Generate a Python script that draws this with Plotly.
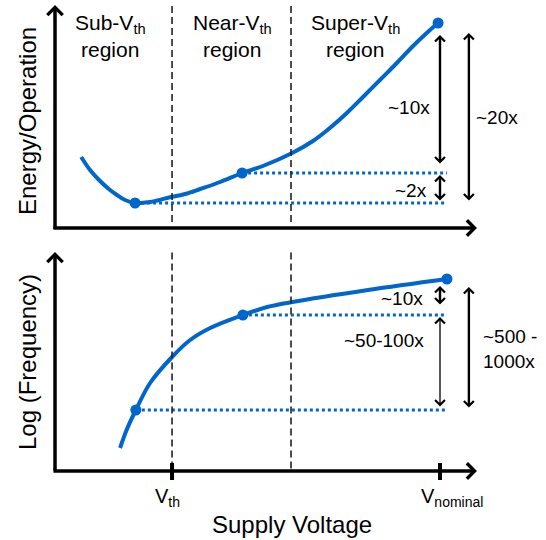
import plotly.graph_objects as go

W, H = 546, 540
FONT = "Liberation Sans, Arial, sans-serif"
BLUE = "#0066CC"

# ---------------- data (arbitrary conceptual units) ----------------
# supply voltage normalised: V_nominal = 1.0
v_th = 0.304
v_super = 0.613
v_nominal = 1.0

# Energy / operation curve
energy_v = [0.068, 0.091, 0.117, 0.143, 0.161, 0.182, 0.208, 0.247, 0.291, 0.338,
            0.377, 0.429, 0.486, 0.540, 0.616, 0.670, 0.714, 0.758, 0.800, 0.844,
            0.888, 0.930, 0.974, 0.995]
energy_e = [2.84, 2.32, 1.88, 1.52, 1.32, 1.12, 1.00, 1.04, 1.20, 1.36,
            1.56, 1.84, 2.20, 2.48, 3.00, 3.48, 4.00, 4.60, 5.24, 5.92,
            6.60, 7.28, 7.92, 8.20]
energy_pts_v = [0.208, 0.486, 0.995]
energy_pts_e = [1.00, 2.20, 8.20]

# Log(frequency) curve
freq_v = [0.169, 0.186, 0.210, 0.247, 0.304, 0.351, 0.403, 0.488, 0.551, 0.616, 0.813, 1.018]
freq_f = [0.92, 1.64, 2.44, 3.52, 4.56, 5.24, 5.72, 6.24, 6.56, 6.76, 7.24, 7.68]
freq_pts_v = [0.210, 0.488, 1.018]
freq_pts_f = [2.44, 6.24, 7.68]

guide_end_v = 1.018

region_labels = ["Sub-V<sub>th</sub>", "Near-V<sub>th</sub>", "Super-V<sub>th</sub>"]
energy_ratio_labels = ["~10x", "~2x", "~20x"]
freq_ratio_labels = ["~10x", "~50-100x", "~500 -<br>1000x"]
tick_labels = ["V<sub>th</sub>", "V<sub>nominal</sub>"]

# ---------------- layout geometry ----------------
X_RANGE = [-55 / 385, 491 / 385]
Y1_RANGE = [-0.48, 9.12]
Y2_RANGE = [-2.76, 9.24]
SPLIT = 1 - 240 / H


def px(xp):
    return xp / W


def py(yp):
    return 1 - yp / H


fig = go.Figure()

# main curves
fig.add_trace(go.Scatter(x=energy_v, y=energy_e, mode="lines", line=dict(color=BLUE, width=4, shape="spline"),
                         xaxis="x", yaxis="y", hoverinfo="skip"))
fig.add_trace(go.Scatter(x=freq_v, y=freq_f, mode="lines", line=dict(color=BLUE, width=4, shape="spline"),
                         xaxis="x", yaxis="y2", hoverinfo="skip"))

# dotted guide lines
for v, e in zip(energy_pts_v[:2], energy_pts_e[:2]):
    fig.add_trace(go.Scatter(x=[v, guide_end_v], y=[e, e], mode="lines",
                             line=dict(color=BLUE, width=3, dash="dot"), xaxis="x", yaxis="y", hoverinfo="skip"))
for v, f in zip(freq_pts_v[:2], freq_pts_f[:2]):
    fig.add_trace(go.Scatter(x=[v, guide_end_v], y=[f, f], mode="lines",
                             line=dict(color=BLUE, width=3, dash="dot"), xaxis="x", yaxis="y2", hoverinfo="skip"))

# markers
fig.add_trace(go.Scatter(x=energy_pts_v, y=energy_pts_e, mode="markers",
                         marker=dict(color=BLUE, size=11), xaxis="x", yaxis="y", hoverinfo="skip"))
fig.add_trace(go.Scatter(x=freq_pts_v, y=freq_pts_f, mode="markers",
                         marker=dict(color=BLUE, size=11), xaxis="x", yaxis="y2", hoverinfo="skip"))

shapes = []
# region boundaries (dashed)
for v in [v_th, v_super]:
    shapes.append(dict(type="line", xref="x", yref="y", x0=v, x1=v, y0=0.24, y1=9.0,
                       line=dict(color="#222222", width=1.6, dash="7px,4px")))
    shapes.append(dict(type="line", xref="x", yref="y2", x0=v, x1=v, y0=0.1, y1=8.84,
                       line=dict(color="#222222", width=1.6, dash="7px,4px")))
# tick marks on bottom axis
for v in [v_th, v_nominal]:
    shapes.append(dict(type="line", xref="x", yref="y2", x0=v, x1=v, y0=-0.36, y1=0.32,
                       line=dict(color="black", width=4)))

annotations = []


def arrow(x0, y0, x1, y1, yref, width, size, head=4, both=False):
    annotations.append(dict(x=x1, y=y1, ax=x0, ay=y0, xref="x", yref=yref, axref="x", ayref=yref,
                            text="", showarrow=True, arrowhead=head, startarrowhead=head,
                            arrowside="end+start" if both else "end",
                            arrowwidth=width, arrowsize=size, startarrowsize=size,
                            arrowcolor="black", standoff=0, startstandoff=0))


# axes with arrow heads
arrow(0, -0.1, 0, 8.92, "y", 3.5, 0.85)
arrow(-0.008, 0.0, 1.096, 0.0, "y", 3.5, 0.85)
arrow(0, -0.04, 0, 8.76, "y2", 3.5, 0.85)
arrow(-0.008, 0.0, 1.096, 0.0, "y2", 3.5, 0.85)

# ratio arrows, top panel
arrow(1.0, 2.52, 1.0, 7.72, "y", 2.4, 0.8, both=True)
arrow(1.0, 1.04, 1.0, 2.12, "y", 2.4, 0.8, both=True)
arrow(1.075, 1.04, 1.075, 7.8, "y", 2.4, 0.8, both=True)
# ratio arrows, bottom panel
arrow(1.0, 6.6, 1.0, 7.4, "y2", 2.4, 0.8, both=True)
arrow(1.0, 2.52, 1.0, 6.16, "y2", 1.3, 1.45, both=True)
arrow(1.075, 2.48, 1.075, 7.36, "y2", 2.4, 0.8, both=True)


def label(text, xp, yp, size, xanchor="center", align="center", angle=0):
    annotations.append(dict(text=text, x=px(xp), y=py(yp), xref="paper", yref="paper",
                            showarrow=False, xanchor=xanchor, yanchor="middle", align=align,
                            textangle=angle, font=dict(family=FONT, size=size, color="black")))


# region labels
for t, xc in zip(region_labels, [110, 232, 355]):
    label(t, xc, 24, 21)
    label("region", xc, 50, 21)

# ratio labels
for t, (xc, yc) in zip(energy_ratio_labels, [(409, 108), (411, 191), (497, 117)]):
    label(t, xc, yc, 19)
for t, (xc, yc) in zip(freq_ratio_labels[:2], [(402, 298), (384, 340)]):
    label(t, xc, yc, 19)
label(freq_ratio_labels[2], 481, 349, 19, xanchor="left", align="left")

# axis tick labels and titles
label(tick_labels[0], 167, 497, 20)
label(tick_labels[1], 452, 497, 20)
label("Supply Voltage", 292, 524, 24)
label("Energy/Operation", 27, 121, 24, angle=-90)
label("Log (Frequency)", 27, 362, 24, angle=-90)

axis_common = dict(visible=False, showgrid=False, zeroline=False, fixedrange=True)
fig.update_layout(
    width=W, height=H,
    margin=dict(l=0, r=0, t=0, b=0),
    paper_bgcolor="white", plot_bgcolor="rgba(0,0,0,0)",
    showlegend=False,
    xaxis=dict(range=X_RANGE, domain=[0, 1], **axis_common),
    yaxis=dict(range=Y1_RANGE, domain=[SPLIT, 1], **axis_common),
    yaxis2=dict(range=Y2_RANGE, domain=[0, SPLIT], anchor="x", **axis_common),
    shapes=shapes,
    annotations=annotations,
    font=dict(family=FONT),
)

fig.write_html("out.html", config={"displayModeBar": False},
               post_script="document.body.style.margin='0';document.body.style.overflow='hidden';")
